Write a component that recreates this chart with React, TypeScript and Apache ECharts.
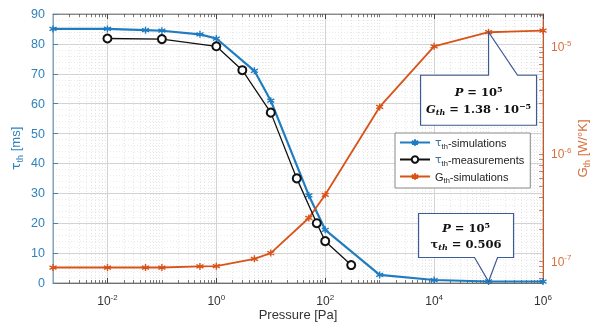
import React, { useEffect, useRef } from "react";
import * as echarts from "echarts";

const simPressure = [1e-3, 1e-2, 0.05, 0.1, 0.5, 1, 5, 10, 50, 100, 1000, 1e4, 1e5, 1e6];
const tauSim = [85, 85, 84.6, 84.4, 83.2, 81.8, 71, 61, 29.3, 17.8, 2.7, 1.0, 0.506, 0.5];
const gSim = [8.8e-8, 8.8e-8, 8.8e-8, 8.8e-8, 9.0e-8, 9.05e-8, 1.06e-7, 1.2e-7, 2.55e-7, 4.2e-7, 2.77e-6, 1.02e-5, 1.38e-5, 1.43e-5];
const measPressure = [0.01, 0.1, 1, 3, 10, 30, 70, 100, 300];
const tauMeas = [81.8, 81.6, 79.2, 71.2, 57, 35, 20, 14, 6];

const xMajorExp = [-2, 0, 2, 4, 6];
const yRightMajorExp = [-7, -6, -5];
const seriesNames = ["tauSim", "tauMeas", "gSim"];
const legendLabels: Record<string, string> = {
  tauSim: "{t|τ}{sub|th}{a|-simulations}",
  tauMeas: "{t|τ}{sub|th}{a|-measurements}",
  gSim: "{a|G}{sub|th}{a|-simulations}",
};

const BLUE = "#1f7cc0";
const ORANGE = "#d95319";
const BLUE_TXT = "#2f82bd";
const ORANGE_TXT = "#d7703c";
const BOX = "#3c5a93";

const X_MIN = -3;
const X_MAX = 6;
const YR_MIN = -7.2;
const YR_MAX = -4.69;

const star = "path://M0,-5L0,5M-4.3,-2.5L4.3,2.5M-4.3,2.5L4.3,-2.5";

function minorLog(lo: number, hi: number, includeOdd: boolean) {
  const out: number[] = [];
  for (let n = Math.floor(lo) - 1; n <= Math.ceil(hi); n++) {
    for (let k = 2; k <= 9; k++) {
      const v = n + Math.log10(k);
      if (v > lo && v < hi) out.push(v);
    }
    if (includeOdd && Math.abs(n % 2) === 1 && n > lo && n < hi) out.push(n);
  }
  return out;
}

export default function App() {
  const ref = useRef<HTMLDivElement>(null);
  useEffect(() => {
    if (!ref.current) return;
    const chart = echarts.init(ref.current, undefined, { renderer: "svg" });
    const lx = (p: number) => Math.log10(p);
    const xAllTicks = minorLog(X_MIN, X_MAX, true);
    const yrMinor: number[] = [];
    for (let n = -8; n <= -4; n++) {
      for (let k = 1; k <= 9; k++) {
        const v = n + Math.log10(k);
        if (v > YR_MIN && v < YR_MAX) yrMinor.push(v);
      }
    }
    const supRich = {
      b: { fontSize: 12, color: "#333", fontFamily: "Liberation Sans" },
      s: { fontSize: 8, color: "#333", fontFamily: "Liberation Sans", padding: [0, 0, 8, 0] },
    };
    const baseX = {
      type: "value",
      min: X_MIN,
      max: X_MAX,
      gridIndex: 0,
    };
    const option: any = {
      animation: false,
      grid: {
        left: 53, right: 47, top: 14, bottom: 41,
        outerBoundsMode: "none",
        containLabel: false,
        show: true, borderColor: "#777", borderWidth: 0.8, backgroundColor: "#fff",
      },
      legend: {
        data: seriesNames,
        orient: "vertical",
        left: 395,
        top: 133,
        itemWidth: 30,
        itemHeight: 8,
        itemGap: 4,
        padding: [4, 6, 4, 4],
        backgroundColor: "#fff",
        borderColor: "#888",
        borderWidth: 1,
        formatter: (name: string) => legendLabels[name],
        textStyle: {
          fontFamily: "Liberation Sans",
          fontSize: 11,
          color: "#222",
          rich: {
            a: { fontSize: 11, color: "#222", fontFamily: "Liberation Sans" },
            t: { fontSize: 11, color: "#3a6fa0", fontFamily: "DejaVu Sans" },
            sub: { fontSize: 7.5, color: "#222", fontFamily: "Liberation Sans", padding: [7, 0, 0, 0] },
          },
        },
      },
      xAxis: [
        {
          ...baseX,
          position: "bottom",
          name: "Pressure [Pa]",
          nameLocation: "middle",
          nameGap: 25,
          nameMoveOverlap: false,
          nameTextStyle: { fontSize: 13, color: "#333", fontFamily: "Liberation Sans" },
          axisLine: { show: true, onZero: false, lineStyle: { color: "#555", width: 0.8 } },
          axisTick: { show: true, inside: true, length: 5, customValues: xMajorExp, lineStyle: { color: "#444" } },
          axisLabel: {
            customValues: xMajorExp,
            margin: 10,
            formatter: (v: number) => `{b|10}{s|${Math.round(v)}}`,
            rich: supRich,
          },
          splitLine: { show: true, lineStyle: { color: "#d3d3d3", width: 1 } },
        },
        {
          ...baseX,
          position: "bottom",
          axisLine: { show: false, onZero: false },
          axisLabel: { show: false },
          axisTick: { show: true, inside: true, length: 3, customValues: xAllTicks, lineStyle: { color: "#555", width: 0.8 } },
          splitLine: { show: true, lineStyle: { color: "#e0e0e0", width: 0.8, type: [1, 2] } },
        },
        {
          ...baseX,
          position: "top",
          axisLine: { show: true, onZero: false, lineStyle: { color: "#777", width: 0.8 } },
          axisLabel: { show: false },
          axisTick: { show: true, inside: true, length: 5, customValues: xMajorExp, lineStyle: { color: "#444" } },
          splitLine: { show: false },
        },
        {
          ...baseX,
          position: "top",
          axisLine: { show: false, onZero: false },
          axisLabel: { show: false },
          axisTick: { show: true, inside: true, length: 3, customValues: xAllTicks, lineStyle: { color: "#555", width: 0.8 } },
          splitLine: { show: false },
        },
      ],
      yAxis: [
        {
          type: "value",
          min: 0,
          max: 90,
          interval: 10,
          position: "left",
          name: "{t|τ}{sub|th}{a| [ms]}",
          nameLocation: "middle",
          nameGap: 29,
          nameMoveOverlap: false,
          nameTextStyle: {
            rich: {
              t: { fontSize: 13, color: BLUE_TXT, fontFamily: "DejaVu Sans" },
              sub: { fontSize: 9, color: BLUE_TXT, fontFamily: "Liberation Sans", padding: [8, 0, 0, 0] },
              a: { fontSize: 13, color: BLUE_TXT, fontFamily: "Liberation Sans" },
            },
          },
          axisLine: { show: true, onZero: false, lineStyle: { color: "#6a9cc6", width: 0.8 } },
          axisTick: { show: true, inside: true, length: 5, lineStyle: { color: "#4a7fae" } },
          axisLabel: { color: BLUE_TXT, fontSize: 12.5, fontFamily: "Liberation Sans", margin: 8 },
          splitLine: { show: true, lineStyle: { color: "#d3d3d3", width: 1 } },
          minorTick: { show: false, splitNumber: 5 },
          minorSplitLine: { show: true, lineStyle: { color: "#e6e6e6", width: 0.8, type: [1, 2] } },
        },
        {
          type: "value",
          min: YR_MIN,
          max: YR_MAX,
          position: "right",
          name: "{a|G}{sub|th}{a| [W/°K]}",
          nameLocation: "middle",
          nameGap: 31,
          nameMoveOverlap: false,
          nameTextStyle: {
            rich: {
              a: { fontSize: 13, color: ORANGE_TXT, fontFamily: "Liberation Sans" },
              sub: { fontSize: 9, color: ORANGE_TXT, fontFamily: "Liberation Sans", padding: [8, 0, 0, 0] },
            },
          },
          axisLine: { show: true, onZero: false, lineStyle: { color: ORANGE, width: 1 } },
          axisTick: { show: true, inside: true, length: 4, customValues: yrMinor, lineStyle: { color: "#b86a45", width: 0.8 } },
          axisLabel: {
            customValues: yRightMajorExp,
            margin: 8,
            formatter: (v: number) => `{b|10}{s|${Math.round(v)}}`,
            rich: {
              b: { fontSize: 12, color: ORANGE_TXT, fontFamily: "Liberation Sans" },
              s: { fontSize: 8, color: ORANGE_TXT, fontFamily: "Liberation Sans", padding: [0, 0, 8, 0] },
            },
          },
          splitLine: { show: false },
        },
      ],
      series: [
        {
          name: "tauSim",
          type: "line",
          xAxisIndex: 0,
          yAxisIndex: 0,
          data: simPressure.map((p, i) => [lx(p), tauSim[i]]),
          lineStyle: { color: BLUE, width: 2.2 },
          itemStyle: { color: BLUE, borderColor: BLUE, borderWidth: 1.4 },
          symbol: star,
          symbolSize: 7,
          z: 3,
        },
        {
          name: "tauMeas",
          type: "line",
          xAxisIndex: 0,
          yAxisIndex: 0,
          data: measPressure.map((p, i) => [lx(p), tauMeas[i]]),
          lineStyle: { color: "#111", width: 1.3 },
          itemStyle: { color: "#111", borderColor: "#111", borderWidth: 1.4 },
          symbol: "emptyCircle",
          symbolSize: 8,
          z: 4,
        },
        {
          name: "gSim",
          type: "line",
          xAxisIndex: 0,
          yAxisIndex: 1,
          data: simPressure.map((p, i) => [lx(p), Math.log10(gSim[i])]),
          lineStyle: { color: ORANGE, width: 1.8 },
          itemStyle: { color: ORANGE, borderColor: ORANGE, borderWidth: 1.4 },
          symbol: star,
          symbolSize: 7,
          z: 3,
        },
      ],
    };
    chart.setOption(option);

    const a1 = chart.convertToPixel({ xAxisIndex: 0, yAxisIndex: 1 }, [lx(1e5), Math.log10(gSim[12])]) as number[];
    const a2 = chart.convertToPixel({ xAxisIndex: 0, yAxisIndex: 0 }, [lx(1e5), tauSim[12]]) as number[];
    const b1 = { l: a1[0] - 68, r: a1[0] + 48, t: a1[1] + 43, b: a1[1] + 93 };
    const b2 = { l: a2[0] - 70, r: a2[0] + 25, t: a2[1] - 68, b: a2[1] - 24 };
    const mathRich = {
      i: { fontFamily: "DejaVu Serif", fontStyle: "italic", fontWeight: "bold", fontSize: 11.5, fill: "#111" },
      n: { fontFamily: "DejaVu Serif", fontWeight: "bold", fontSize: 11.5, fill: "#111" },
      is: { fontFamily: "DejaVu Serif", fontStyle: "italic", fontWeight: "bold", fontSize: 8, fill: "#111", padding: [6, 0, 0, 0] },
      s: { fontFamily: "DejaVu Serif", fontWeight: "bold", fontSize: 8, fill: "#111", padding: [0, 0, 7, 0] },
    };
    chart.setOption({
      graphic: [
        {
          type: "polygon",
          z: 100,
          shape: {
            points: [
              [b1.l, b1.t], [a1[0], b1.t], [a1[0], a1[1]], [a1[0] + 29, b1.t],
              [b1.r, b1.t], [b1.r, b1.b], [b1.l, b1.b],
            ],
          },
          style: { fill: "#fff", stroke: BOX, lineWidth: 1.2 },
        },
        {
          type: "text",
          z: 101,
          x: (b1.l + b1.r) / 2,
          y: b1.t + 17,
          style: { text: "{i|P}{n| = 10}{s|5}", rich: mathRich, align: "center", verticalAlign: "middle" },
        },
        {
          type: "text",
          z: 101,
          x: (b1.l + b1.r) / 2,
          y: b1.t + 34,
          style: { text: "{i|G}{is|th}{n| = 1.38 · 10}{s|−5}", rich: mathRich, align: "center", verticalAlign: "middle" },
        },
        {
          type: "polygon",
          z: 100,
          shape: {
            points: [
              [b2.l, b2.t], [b2.r, b2.t], [b2.r, b2.b], [a2[0] + 9, b2.b],
              [a2[0], a2[1]], [a2[0] - 14, b2.b], [b2.l, b2.b],
            ],
          },
          style: { fill: "#fff", stroke: BOX, lineWidth: 1.2 },
        },
        {
          type: "text",
          z: 101,
          x: (b2.l + b2.r) / 2,
          y: b2.t + 15,
          style: { text: "{i|P}{n| = 10}{s|5}", rich: mathRich, align: "center", verticalAlign: "middle" },
        },
        {
          type: "text",
          z: 101,
          x: (b2.l + b2.r) / 2,
          y: b2.t + 31,
          style: { text: "{n|τ}{is|th}{n| = 0.506}", rich: mathRich, align: "center", verticalAlign: "middle" },
        },
      ],
    });
    return () => chart.dispose();
  }, []);
  return <div ref={ref} style={{ width: 590, height: 324, position: "fixed", left: 0, top: 0 }} />;
}
